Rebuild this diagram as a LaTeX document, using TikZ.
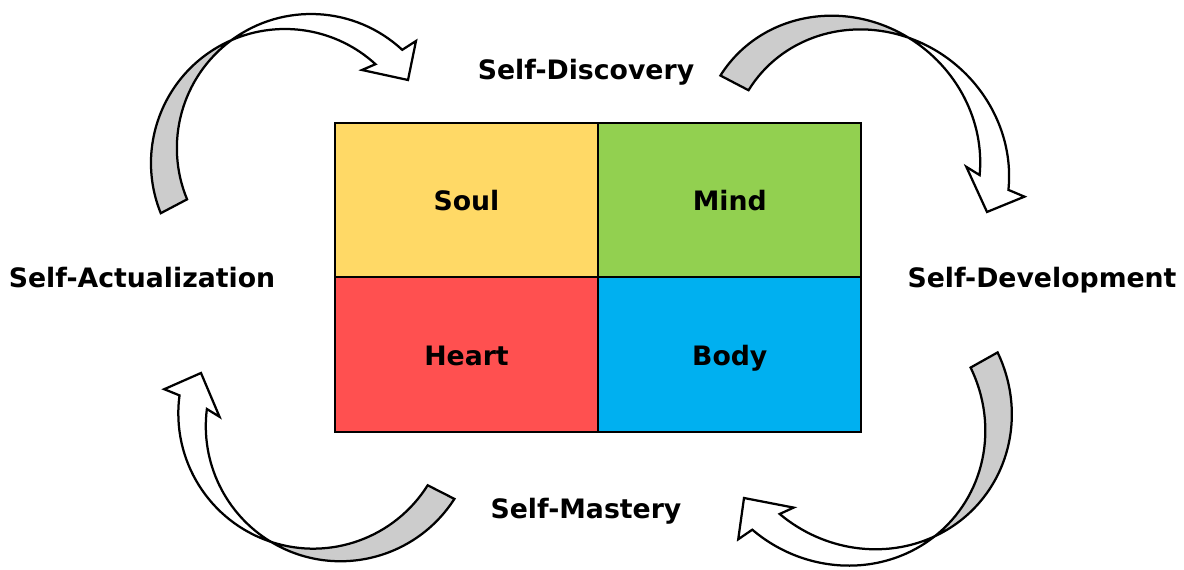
\documentclass[tikz,border=0pt]{standalone}
\usepackage{fontspec}
\setmainfont{DejaVu Sans}
\usetikzlibrary{positioning}
\definecolor{soulc}{HTML}{FFD966}
\definecolor{mindc}{HTML}{92D050}
\definecolor{heartc}{HTML}{FF5050}
\definecolor{bodyc}{HTML}{00B0F0}
\definecolor{backc}{HTML}{CCCCCC}
\tikzset{
  cell/.style={draw, line width=1.5pt, minimum width=6.58cm, minimum height=3.86cm,
               inner sep=0pt, outer sep=0pt, text height=19.6pt, text depth=4pt,
               font=\bfseries\fontsize{19}{23}\selectfont},
  stage/.style={font=\bfseries\fontsize{19}{23}\selectfont, inner sep=0pt, anchor=base},
  backside/.style={draw, line width=1.6pt, fill=backc},
  frontside/.style={draw, line width=1.6pt, fill=white},
}
% one twisted curved arrow, drawn round the origin; placed with cm
\newcommand\twistarrow{%
  \draw[backside] (-13,7.5) ++(158:134) arc[start angle=158, end angle=246.4, radius=134]
    arc[start angle=233.6, end angle=157.5, radius=134] -- cycle;
  \draw[frontside] (13,-7.5) ++(233.6:134) arc[start angle=233.6, end angle=312.9, radius=134]
    -- (118,-114.5) -- (110,-75.5) -- (64,-85.5) -- (77.5,-91.3)
    arc[start angle=312.5, end angle=246.4, radius=134] -- cycle;}

\begin{document}
\begin{tikzpicture}[x=0.025cm, y=-0.025cm]
\useasboundingbox (0,0) rectangle (1184,570);
\clip (0,0) rectangle (1184,570);
% the four quarters
\node[cell, fill=soulc] (soul) at (466.5,200) {Soul};
\node[cell, fill=mindc, right=0pt of soul] (mind) {Mind};
\node[cell, fill=heartc, below=0pt of soul] (heart) {Heart};
\node[cell, fill=bodyc, right=0pt of heart] (body) {Body};
% the stages round it
\node[stage] (discovery) at (586,80) {Self-Discovery};
\node[stage] (development) at (1042,288) {Self-Development};
\node[stage] (mastery) at (586,518) {Self-Mastery};
\node[stage] (actualization) at (142,288) {Self-Actualization};
% arrows, clockwise
\begin{scope}[shift={(298,155.5)}]
  \twistarrow
\end{scope}
\begin{scope}[cm={0.6306,-0.8580,0.8309,0.5684,(854.9,160.5)}]
  \twistarrow
\end{scope}
\begin{scope}[cm={-1.0634,-0.0206,0.0700,-1.0547,(855.7,416.1)}]
  \twistarrow
\end{scope}
\begin{scope}[cm={-0.5815,0.8242,-0.8231,-0.5848,(327.1,419.5)}]
  \twistarrow
\end{scope}
\end{tikzpicture}
\end{document}
